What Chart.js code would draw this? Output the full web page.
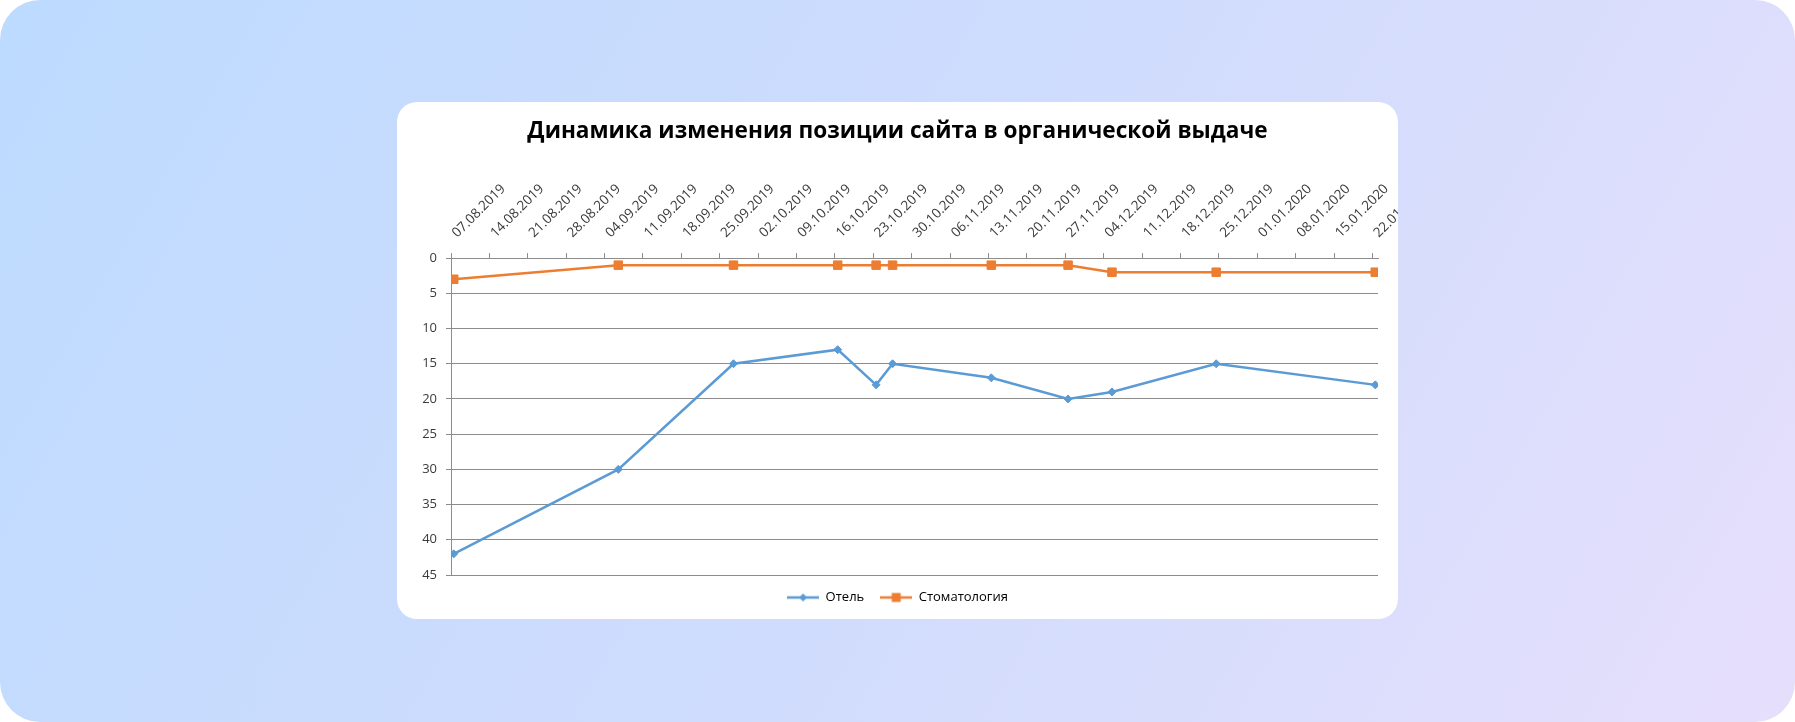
<!DOCTYPE html>
<html lang="ru">
<head>
<meta charset="utf-8">
<title>Динамика изменения позиции сайта в органической выдаче</title>
<script src="https://cdn.jsdelivr.net/npm/chart.js@4.4.1/dist/chart.umd.min.js"></script>
<style>
  html, body { margin: 0; padding: 0; background: #ffffff; }
  .backdrop {
    position: relative;
    width: 1795px;
    height: 722px;
    border-radius: 40px;
    background: linear-gradient(120deg, #bddbff 0%, #cfdcfd 50%, #e6dffc 100%);
    overflow: hidden;
  }
  .card {
    position: absolute;
    left: 397px;
    top: 102px;
    width: 1001px;
    height: 517px;
    background: #ffffff;
    border-radius: 20px;
    overflow: hidden;
  }
</style>
</head>
<body>
<div class="backdrop">
  <div class="card">
    <canvas id="positionsChart" width="1001" height="517"></canvas>
  </div>
</div>
<script>
const chartTitle = 'Динамика изменения позиции сайта в органической выдаче';
const seriesNames = ['Отель', 'Стоматология'];

// dates of the position checks
const checkDates = ['07.08.2019', '06.09.2019', '27.09.2019', '16.10.2019', '23.10.2019', '26.10.2019',
  '13.11.2019', '27.11.2019', '05.12.2019', '24.12.2019', '22.01.2020'];
const hotelPositions = [42, 30, 15, 13, 18, 15, 17, 20, 19, 15, 18];
const dentalPositions = [3, 1, 1, 1, 1, 1, 1, 1, 2, 2, 2];

// weekly labels of the date axis
const tickLabels = ['07.08.2019', '14.08.2019', '21.08.2019', '28.08.2019', '04.09.2019', '11.09.2019',
  '18.09.2019', '25.09.2019', '02.10.2019', '09.10.2019', '16.10.2019', '23.10.2019', '30.10.2019',
  '06.11.2019', '13.11.2019', '20.11.2019', '27.11.2019', '04.12.2019', '11.12.2019', '18.12.2019',
  '25.12.2019', '01.01.2020', '08.01.2020', '15.01.2020', '22.01.2020'];
const positionTicks = [0, 5, 10, 15, 20, 25, 30, 35, 40, 45];

const blue = '#5b9bd5';
const orange = '#ed7d31';
const gridGray = '#8c8c8c';
const textGray = '#3a3a3a';

const dayIndex = (s) => {
  const [d, m, y] = s.split('.').map(Number);
  return Math.round((Date.UTC(y, m - 1, d) - Date.UTC(2019, 7, 7)) / 86400000);
};

const toPoints = (values) => values.map((v, i) => ({ x: dayIndex(checkDates[i]), y: v }));

// legend swatch: short line with the series marker in the middle
const legendSwatch = (color, marker) => {
  const c = document.createElement('canvas');
  c.width = 32; c.height = 12;
  const ctx = c.getContext('2d');
  ctx.strokeStyle = color;
  ctx.fillStyle = color;
  ctx.lineWidth = 2.5;
  ctx.beginPath(); ctx.moveTo(0, 6); ctx.lineTo(32, 6); ctx.stroke();
  ctx.beginPath();
  if (marker === 'square') {
    ctx.rect(11.5, 1.5, 9, 9);
  } else {
    ctx.moveTo(16, 2); ctx.lineTo(20, 6); ctx.lineTo(16, 10); ctx.lineTo(12, 6); ctx.closePath();
  }
  ctx.fill();
  return c;
};
const swatches = [legendSwatch(blue, 'diamond'), legendSwatch(orange, 'square')];

Chart.defaults.font.family = '"Open Sans", "Noto Sans", sans-serif';
Chart.defaults.color = textGray;

new Chart(document.getElementById('positionsChart').getContext('2d'), {
  type: 'line',
  data: {
    datasets: [{
      label: seriesNames[0],
      data: toPoints(hotelPositions),
      borderColor: blue,
      backgroundColor: blue,
      borderWidth: 2.5,
      tension: 0,
      pointStyle: 'rectRot',
      pointRadius: 4,
      pointBorderWidth: 1,
      pointBackgroundColor: blue
    }, {
      label: seriesNames[1],
      data: toPoints(dentalPositions),
      borderColor: orange,
      backgroundColor: orange,
      borderWidth: 2.5,
      tension: 0,
      pointStyle: 'rect',
      pointRadius: 6,
      pointBorderWidth: 1,
      pointBackgroundColor: orange
    }]
  },
  options: {
    responsive: false,
    animation: false,
    layout: { padding: { left: 20, right: 20, top: 0, bottom: 5 } },
    plugins: {
      title: {
        display: true,
        text: chartTitle,
        color: '#000000',
        font: { size: 22.6, weight: 'bold' },
        padding: { top: 16, bottom: 0 }
      },
      legend: {
        position: 'bottom',
        labels: {
          usePointStyle: true,
          pointStyleWidth: 32,
          padding: 16,
          color: '#333333',
          font: { size: 13 },
          generateLabels: (chart) => chart.data.datasets.map((ds, i) => ({
            text: ds.label,
            pointStyle: swatches[i],
            fillStyle: ds.borderColor,
            strokeStyle: ds.borderColor,
            lineWidth: 0,
            datasetIndex: i,
            hidden: false
          }))
        }
      },
      tooltip: { enabled: false }
    },
    scales: {
      x: {
        type: 'linear',
        position: 'top',
        min: -0.5,
        max: dayIndex(tickLabels[tickLabels.length - 1]) + 0.5,
        afterBuildTicks: (scale) => {
          scale.ticks = tickLabels.map(l => ({ value: dayIndex(l) - 0.5 }));
        },
        afterFit: (scale) => {
          scale.height = 113;
          scale.paddingLeft = 0;
          scale.paddingRight = 0;
        },
        grid: { drawOnChartArea: false, drawTicks: true, tickLength: 5, color: gridGray },
        border: { color: gridGray, width: 1 },
        ticks: {
          autoSkip: false,
          minRotation: 45,
          maxRotation: 45,
          padding: 12,
          labelOffset: 15,
          color: textGray,
          font: { size: 13.5 },
          callback: (value, index) => tickLabels[index]
        }
      },
      y: {
        reverse: true,
        min: positionTicks[0],
        max: positionTicks[positionTicks.length - 1],
        afterBuildTicks: (scale) => {
          scale.ticks = positionTicks.map(v => ({ value: v }));
        },
        afterFit: (scale) => { scale.width = 34; },
        grid: { drawOnChartArea: true, drawTicks: true, tickLength: 5, color: gridGray },
        border: { color: gridGray, width: 1 },
        ticks: { padding: 9, color: textGray, font: { size: 13 } }
      }
    }
  }
});
</script>
</body>
</html>
